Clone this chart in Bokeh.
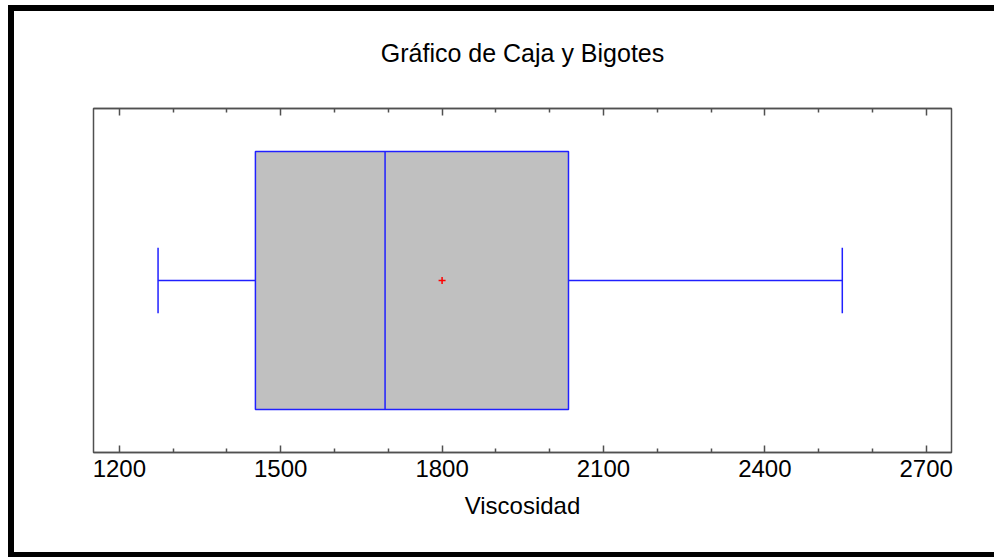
from bokeh.plotting import figure
from bokeh.models import Range1d, FixedTicker, LinearAxis
from bokeh.embed import file_html
from bokeh.resources import INLINE

# Data
variable = ["Viscosidad"]
whisker_min = [1272]
q1 = [1453]
median = [1694]
q3 = [2035]
whisker_max = [2544]
mean = [1800]
major_ticks = [1200, 1500, 1800, 2100, 2400, 2700]
minor_ticks = [1300, 1400, 1600, 1700, 1900, 2000, 2200, 2300, 2500, 2600]

FONT = "Liberation Sans"
AXIS_COL = "#505050"

p = figure(width=986, height=552, output_backend="svg", toolbar_location=None,
           x_range=Range1d(1152, 2747), y_range=Range1d(-1, 1),
           title="Gráfico de Caja y Bigotes",
           min_border_left=79, min_border_right=49, min_border_top=97, min_border_bottom=111)
p.styles = {"margin-left": "8px", "margin-top": "5px",
            "border-left": "6px solid black", "border-top": "6px solid black",
            "border-bottom": "5px solid black"}

p.title.align = "center"
p.title.text_font = FONT
p.title.text_font_style = "normal"
p.title.text_font_size = "25px"
p.title.text_color = "black"
p.title.standoff = 20

p.xgrid.visible = False
p.ygrid.visible = False
p.yaxis.visible = False
p.outline_line_color = AXIS_COL
p.outline_line_width = 1.5
p.background_fill_color = "white"
p.border_fill_color = "white"

ticker = FixedTicker(ticks=major_ticks, minor_ticks=minor_ticks)
xa = p.xaxis[0]
xa.ticker = ticker
xa.axis_label = variable[0]
xa.axis_label_text_font = FONT
xa.axis_label_text_font_style = "normal"
xa.axis_label_text_font_size = "24px"
xa.axis_label_text_color = "black"
xa.axis_label_standoff = 12
xa.major_label_text_font = FONT
xa.major_label_text_font_size = "24px"
xa.major_label_text_color = "black"
xa.major_label_standoff = 7
xa.major_tick_in = 7
xa.major_tick_out = 0
xa.minor_tick_in = 4
xa.minor_tick_out = 0
xa.axis_line_color = AXIS_COL
xa.axis_line_width = 1.5
xa.major_tick_line_color = AXIS_COL
xa.minor_tick_line_color = AXIS_COL
xa.major_tick_line_width = 1.5
xa.minor_tick_line_width = 1.5

# top axis: mirrored inward ticks, no labels
top = LinearAxis(ticker=ticker)
top.major_label_overrides = {t: "" for t in major_ticks}
top.major_label_standoff = 0
top.major_tick_in = 7
top.major_tick_out = 0
top.minor_tick_in = 4
top.minor_tick_out = 0
top.axis_line_color = AXIS_COL
top.axis_line_width = 1.5
top.major_tick_line_color = AXIS_COL
top.minor_tick_line_color = AXIS_COL
top.major_tick_line_width = 1.5
top.minor_tick_line_width = 1.5
p.add_layout(top, "above")

# spacer between the frame and the title (draws nothing)
spacer = LinearAxis(ticker=ticker)
spacer.major_label_overrides = {t: "" for t in major_ticks}
spacer.major_label_standoff = 0
spacer.axis_line_color = None
spacer.major_tick_line_color = None
spacer.minor_tick_line_color = None
spacer.major_tick_in = 0
spacer.major_tick_out = 32
spacer.minor_tick_in = 0
spacer.minor_tick_out = 0
p.add_layout(spacer, "above")

BLUE = "#2020ff"
# whiskers
p.segment(x0=whisker_min, y0=[0], x1=q1, y1=[0], line_color=BLUE, line_width=1.5)
p.segment(x0=q3, y0=[0], x1=whisker_max, y1=[0], line_color=BLUE, line_width=1.5)
p.segment(x0=whisker_min, y0=[-0.19], x1=whisker_min, y1=[0.19], line_color=BLUE, line_width=1.5)
p.segment(x0=whisker_max, y0=[-0.19], x1=whisker_max, y1=[0.19], line_color=BLUE, line_width=1.5)
# box
p.quad(left=q1, right=q3, bottom=[-0.75], top=[0.75], fill_color="#C0C0C0",
       line_color=BLUE, line_width=1.5)
p.segment(x0=median, y0=[-0.75], x1=median, y1=[0.75], line_color=BLUE, line_width=1.5)
# mean
p.scatter(x=mean, y=[0], marker="cross", size=7, line_color="red", line_width=1.5)

open("out.html", "w").write(file_html(p, INLINE))
